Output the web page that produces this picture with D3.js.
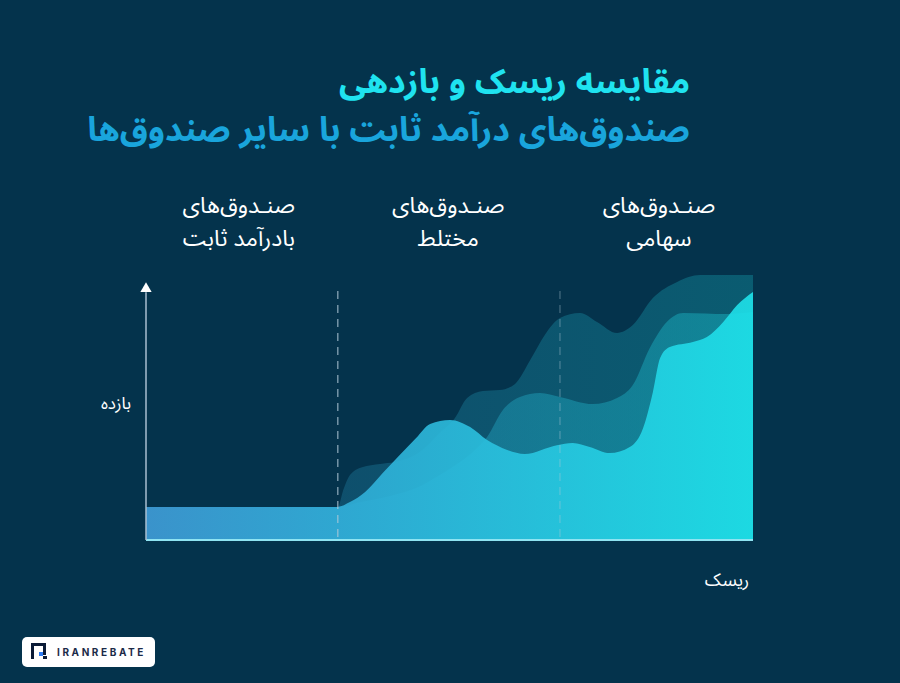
<!DOCTYPE html>
<html>
<head>
<meta charset="utf-8">
<script src="https://cdn.jsdelivr.net/npm/d3@7"></script>
<style>
  html, body { margin: 0; padding: 0; background: #04334c; }
  svg { display: block; }
  text { font-family: "Noto Sans Arabic", Vazirmatn, "DejaVu Sans", "Noto Sans", sans-serif; }
</style>
</head>
<body>
<div id="chart"></div>
<script>
// risk (0-100) and return (0-100), one list per fund group
var backRisk   = [0, 31.6, 32.5, 33.6, 35.6, 38.6, 41.0, 45.1, 48.4, 50.9, 52.9, 55.5, 58.3, 60.8, 63.3, 65.7, 68.2, 71.5, 74.3, 77.6, 80.2, 83.5, 87.5, 91.3, 100];
var backReturn = [12.5, 12.5, 18.9, 24.5, 27.5, 28.7, 29.4, 33.2, 40.4, 46.0, 53.6, 56.2, 56.6, 58.9, 67.9, 77.4, 83.8, 85.7, 82.3, 78.1, 81.1, 91.3, 97.4, 100, 100];

var midRisk   = [0, 31.6, 35.3, 40.2, 44.5, 48.4, 51.7, 54.2, 56.2, 58.8, 61.6, 64.9, 68.2, 73.6, 77.6, 80.2, 83.0, 85.8, 88.5, 95.7, 100];
var midReturn = [12.5, 12.5, 14.3, 16.6, 19.6, 24.5, 29.4, 34.0, 38.9, 49.1, 54.0, 55.5, 54.0, 51.3, 53.6, 58.5, 72.5, 82.3, 85.7, 85.3, 86.0];

var frontRisk   = [0, 31.6, 33.6, 36.1, 39.0, 41.8, 44.5, 46.8, 50.1, 53.4, 56.2, 59.5, 62.4, 67.7, 70.3, 73.1, 76.4, 79.7, 81.9, 83.5, 84.7, 86.3, 90.1, 92.4, 95.1, 97.4, 100];
var frontReturn = [12.5, 12.5, 14.3, 18.1, 25.3, 32.1, 38.5, 43.8, 45.3, 42.6, 37.7, 34.0, 32.5, 35.8, 36.6, 35.1, 32.8, 35.1, 42.3, 55.8, 68.7, 72.8, 74.7, 76.6, 82.3, 88.7, 93.6];

// boundaries between the three fund groups (risk units)
var zoneBreaks = [31.6, 68.2];

var zoneLabels = [
  {lines: ["صنـدوق‌های", "بادرآمد ثابت"], risk: 15.3},
  {lines: ["صنـدوق‌های", "مختلط"], risk: 49.8},
  {lines: ["صنـدوق‌های", "سهامی"], risk: 84.5}
];

var titleLines = ["مقایسه ریسک و بازدهی", "صندوق‌های درآمد ثابت با سایر صندوق‌ها"];
var yLabel = "بازده";
var xLabel = "ریسک";

var width = 900;
var height = 683;

var svg = d3.select("#chart").append("svg")
  .attr("width", width)
  .attr("height", height);

svg.append("rect")
  .attr("width", width)
  .attr("height", height)
  .attr("fill", "#04334c");

/* Scales */
var x = d3.scaleLinear().domain([0, 100]).range([146, 753]);
var y = d3.scaleLinear().domain([0, 100]).range([540, 275]);

/* Gradient */
var defs = svg.append("defs");
var grad = defs.append("linearGradient")
  .attr("id", "riskGrad")
  .attr("gradientUnits", "userSpaceOnUse")
  .attr("x1", x(0)).attr("x2", x(100))
  .attr("y1", 0).attr("y2", 0);
grad.append("stop").attr("offset", "0%").attr("stop-color", "#3d98d2");
grad.append("stop").attr("offset", "35%").attr("stop-color", "#30b0d9");
grad.append("stop").attr("offset", "100%").attr("stop-color", "#1ee2ea");

/* Areas */
var area = d3.area()
  .x(d => x(d[0]))
  .y0(y(0))
  .y1(d => y(d[1]))
  .curve(d3.curveMonotoneX);

var layers = [
  {risk: backRisk, ret: backReturn, opacity: 0.23},
  {risk: midRisk, ret: midReturn, opacity: 0.32},
  {risk: frontRisk, ret: frontReturn, opacity: 0.9}
];

svg.append("g")
  .attr("class", "areas")
  .selectAll("path")
  .data(layers).enter()
  .append("path")
  .attr("d", d => area(d3.zip(d.risk, d.ret)))
  .attr("fill", "url(#riskGrad)")
  .attr("fill-opacity", d => d.opacity);

/* Dashed zone lines */
svg.append("g")
  .selectAll("line")
  .data(zoneBreaks).enter()
  .append("line")
  .attr("x1", d => x(d)).attr("x2", d => x(d))
  .attr("y1", y(94)).attr("y2", y(0))
  .attr("stroke", "#b4cad8")
  .attr("stroke-width", 1.3)
  .attr("stroke-dasharray", "8,6")
  .attr("opacity", (d, i) => i === 0 ? 0.75 : 0.35);

/* Axes */
svg.append("line")
  .attr("x1", x(0)).attr("x2", x(100))
  .attr("y1", y(0)).attr("y2", y(0))
  .attr("stroke", "#8fe4f2")
  .attr("stroke-width", 2);

svg.append("line")
  .attr("x1", x(0)).attr("x2", x(0))
  .attr("y1", y(0)).attr("y2", y(93.5))
  .attr("stroke", "#a8bfd0")
  .attr("stroke-width", 1.5);

svg.append("path")
  .attr("d", d3.symbol().type(d3.symbolTriangle).size(55)())
  .attr("transform", `translate(${x(0)}, ${y(94.8)})`)
  .attr("fill", "#ffffff");

/* Axis labels */
svg.append("text")
  .attr("x", 116).attr("y", 409)
  .attr("text-anchor", "middle")
  .attr("fill", "#ffffff")
  .attr("font-size", 17)
  .text(yLabel);

svg.append("text")
  .attr("x", 727).attr("y", 586)
  .attr("text-anchor", "middle")
  .attr("fill", "#ffffff")
  .attr("font-size", 18)
  .text(xLabel);

/* Zone labels */
var zl = svg.append("g")
  .selectAll("text")
  .data(zoneLabels).enter()
  .append("text")
  .attr("text-anchor", "middle")
  .attr("fill", "#ffffff")
  .attr("font-size", 23);

zl.selectAll("tspan")
  .data(d => d.lines.map(l => ({text: l, risk: d.risk})))
  .enter()
  .append("tspan")
  .attr("x", d => x(d.risk))
  .attr("y", (d, i) => 213 + i * 33)
  .text(d => d.text);

/* Title */
svg.append("text")
  .attr("x", 690).attr("y", 93)
  .attr("text-anchor", "end")
  .attr("fill", "#1fe3f0")
  .attr("font-size", 34)
  .attr("font-weight", "bold")
  .text(titleLines[0]);

svg.append("text")
  .attr("x", 690).attr("y", 141)
  .attr("text-anchor", "end")
  .attr("fill", "#19a5dc")
  .attr("font-size", 34)
  .attr("font-weight", "bold")
  .text(titleLines[1]);

/* Logo */
var logo = svg.append("g").attr("transform", "translate(22, 637)");
logo.append("rect")
  .attr("width", 133).attr("height", 30)
  .attr("rx", 5)
  .attr("fill", "#ffffff");
logo.append("path")
  .attr("d", "M9,6 H24 V18 H21 V9 H12 V22 H9 Z")
  .attr("fill", "#0b1b36");
logo.append("rect")
  .attr("x", 17).attr("y", 15).attr("width", 4).attr("height", 4)
  .attr("fill", "#2f7df5");
logo.append("rect")
  .attr("x", 21).attr("y", 19).attr("width", 4).attr("height", 3)
  .attr("fill", "#0b1b36");
logo.append("text")
  .attr("x", 35).attr("y", 19)
  .attr("fill", "#1b2a48")
  .attr("font-size", 10)
  .attr("font-weight", "bold")
  .attr("letter-spacing", 2.6)
  .style("font-family", "Inter, 'DejaVu Sans', sans-serif")
  .text("IRANREBATE");
</script>
</body>
</html>
